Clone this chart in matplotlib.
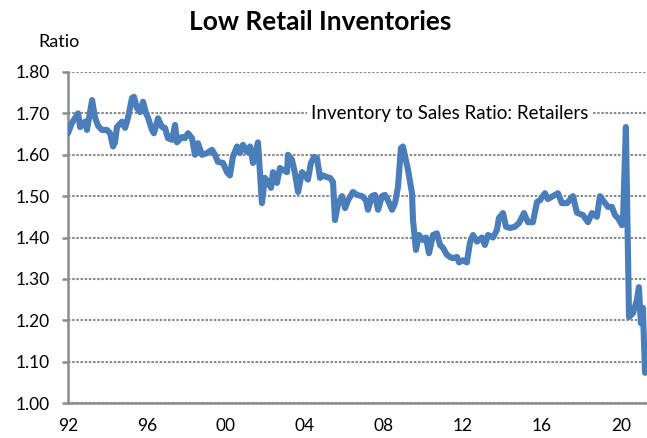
import matplotlib
matplotlib.use("Agg")
import matplotlib.pyplot as plt
from matplotlib.ticker import FormatStrFormatter, FixedLocator

plt.rcParams['font.family'] = ['Lato', 'DejaVu Sans']

# fractional year
years = [
    1992.00, 1992.20, 1992.51, 1992.61, 1992.86, 1992.96, 1993.22, 1993.37, 1993.52, 1993.72,
    1993.97, 1994.13, 1994.28, 1994.38, 1994.48, 1994.73, 1994.89, 1995.04, 1995.24, 1995.34,
    1995.49, 1995.65, 1995.80, 1995.95, 1996.05, 1996.25, 1996.35, 1996.56, 1996.76, 1996.91,
    1997.06, 1997.27, 1997.42, 1997.52, 1997.77, 1997.92, 1998.08, 1998.28, 1998.43, 1998.58,
    1998.78, 1999.04, 1999.29, 1999.44, 1999.59, 1999.85, 2000.05, 2000.20, 2000.35, 2000.56,
    2000.71, 2000.86, 2001.06, 2001.22, 2001.37, 2001.62, 2001.82, 2001.97, 2002.13, 2002.28,
    2002.38, 2002.58, 2002.73, 2002.89, 2003.09, 2003.14, 2003.34, 2003.49, 2003.65, 2003.85,
    2004.00, 2004.15, 2004.30, 2004.46, 2004.61, 2004.76, 2004.91, 2005.11, 2005.27, 2005.42,
    2005.52, 2005.67, 2005.87, 2006.03, 2006.18, 2006.43, 2006.63, 2006.89, 2007.09, 2007.19,
    2007.39, 2007.54, 2007.70, 2007.90, 2008.05, 2008.20, 2008.41, 2008.56, 2008.71, 2008.86,
    2008.96, 2009.22, 2009.42, 2009.47, 2009.62, 2009.77, 2009.97, 2010.13, 2010.28, 2010.48,
    2010.68, 2010.84, 2010.99, 2011.19, 2011.34, 2011.49, 2011.70, 2011.80, 2012.00, 2012.20,
    2012.35, 2012.51, 2012.71, 2012.96, 2013.11, 2013.27, 2013.52, 2013.72, 2013.82, 2014.03,
    2014.18, 2014.38, 2014.63, 2014.84, 2015.09, 2015.29, 2015.54, 2015.75, 2015.90, 2016.15,
    2016.30, 2016.56, 2016.81, 2017.01, 2017.27, 2017.57, 2017.77, 2018.08, 2018.33, 2018.53,
    2018.78, 2018.94, 2019.09, 2019.34, 2019.54, 2019.70, 2019.85, 2020.05, 2020.10, 2020.25,
    2020.41, 2020.61, 2020.81, 2020.91, 2021.01, 2021.11, 2021.22,
]
ratio = [
    1.652, 1.677, 1.700, 1.667, 1.680, 1.660, 1.732, 1.690, 1.670, 1.660,
    1.660, 1.652, 1.620, 1.630, 1.667, 1.680, 1.665, 1.690, 1.737, 1.740,
    1.713, 1.703, 1.728, 1.700, 1.690, 1.660, 1.652, 1.688, 1.667, 1.665,
    1.640, 1.636, 1.672, 1.630, 1.643, 1.640, 1.652, 1.640, 1.600, 1.628,
    1.600, 1.604, 1.612, 1.600, 1.583, 1.580, 1.558, 1.550, 1.595, 1.620,
    1.604, 1.624, 1.607, 1.620, 1.580, 1.630, 1.483, 1.544, 1.534, 1.520,
    1.558, 1.532, 1.568, 1.563, 1.558, 1.600, 1.588, 1.556, 1.510, 1.558,
    1.550, 1.540, 1.580, 1.595, 1.592, 1.544, 1.550, 1.546, 1.544, 1.534,
    1.442, 1.480, 1.500, 1.471, 1.490, 1.510, 1.503, 1.500, 1.490, 1.467,
    1.500, 1.503, 1.467, 1.500, 1.503, 1.490, 1.467, 1.483, 1.522, 1.616,
    1.620, 1.563, 1.507, 1.442, 1.370, 1.406, 1.394, 1.400, 1.362, 1.406,
    1.410, 1.382, 1.375, 1.358, 1.353, 1.350, 1.353, 1.340, 1.345, 1.340,
    1.387, 1.406, 1.390, 1.400, 1.382, 1.406, 1.400, 1.418, 1.447, 1.459,
    1.426, 1.423, 1.426, 1.435, 1.459, 1.437, 1.437, 1.486, 1.490, 1.507,
    1.493, 1.500, 1.507, 1.483, 1.483, 1.500, 1.460, 1.454, 1.437, 1.459,
    1.450, 1.500, 1.490, 1.474, 1.474, 1.454, 1.447, 1.430, 1.435, 1.667,
    1.208, 1.217, 1.249, 1.280, 1.193, 1.230, 1.073,
]
tick_years = [1992, 1996, 2000, 2004, 2008, 2012, 2016, 2020]
tick_labels = ['92', '96', '00', '04', '08', '12', '16', '20']

fig = plt.figure(figsize=(6.47, 4.38), dpi=100)
ax = fig.add_axes([68 / 647, 35 / 438, 579 / 647, 331 / 438])

ax.plot(years, ratio, color='#4a7ebb', lw=4.4, solid_joinstyle='round',
        solid_capstyle='round', zorder=3)

ax.set_xlim(1992.0, 2021.32)
ax.set_ylim(1.0, 1.8)
ax.yaxis.set_major_locator(FixedLocator([1.0, 1.1, 1.2, 1.3, 1.4, 1.5, 1.6, 1.7, 1.8]))
ax.yaxis.set_major_formatter(FormatStrFormatter('%.2f'))
ax.set_xticks(tick_years)
ax.set_xticklabels(tick_labels)

ax.grid(axis='y', color='#8c8c8c', lw=1.5, ls=(0, (1.2, 0.8)))
ax.set_axisbelow(True)
for s in ['top', 'right']:
    ax.spines[s].set_visible(False)
for s in ['left', 'bottom']:
    ax.spines[s].set_color('#8c8c8c')
    ax.spines[s].set_linewidth(1.8)
ax.tick_params(axis='y', length=4, width=1.8, color='#8c8c8c', pad=9, labelsize=12.5)
ax.tick_params(axis='x', length=0, pad=11, labelsize=12.5)

ax.text(2011.34, 1.70, 'Inventory to Sales Ratio: Retailers', ha='center', va='center',
        fontsize=13.5, bbox=dict(facecolor='white', edgecolor='none', pad=3), zorder=2)

fig.text(320 / 647, 1 - 22 / 438, 'Low Retail Inventories', ha='center', va='center',
         fontsize=19, fontweight='bold')
fig.text(38 / 647, 1 - 42 / 438, 'Ratio', ha='left', va='center', fontsize=13)

fig.savefig('out.png', dpi=100)
